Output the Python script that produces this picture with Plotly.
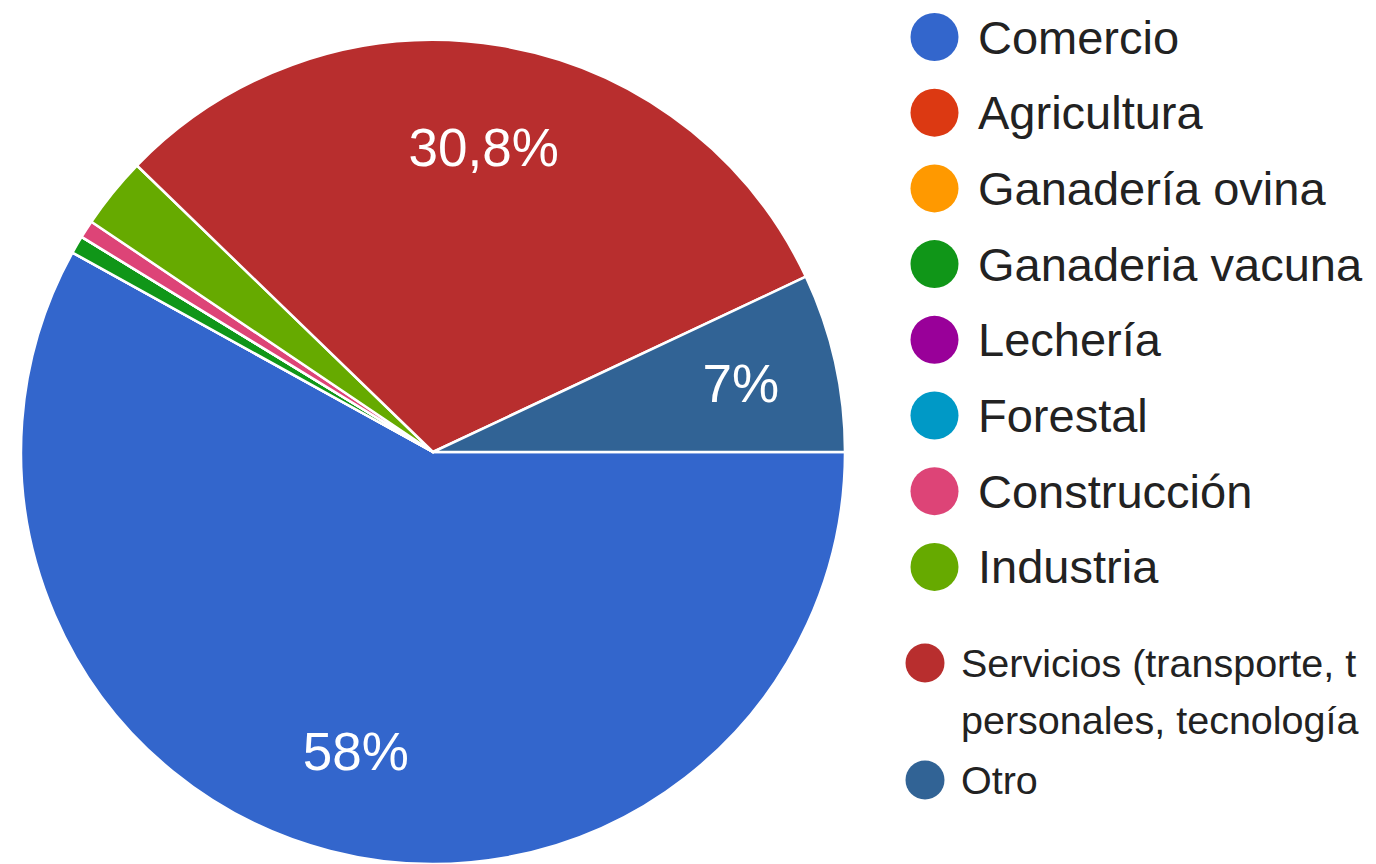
import plotly.graph_objects as go

# ---- data ----
categories = ["Comercio", "Agricultura", "Ganadería ovina", "Ganaderia vacuna",
              "Lechería", "Forestal", "Construcción", "Industria",
              "Servicios (transporte, turismo, servicios personales, tecnología)", "Otro"]
counts = [83, 0, 0, 1, 0, 0, 1, 4, 44, 10]
slice_labels = ["58%", "", "", "", "", "", "", "", "30,8%", ""]
small_slice_labels = ["", "", "", "", "", "", "", "", "", "7%"]
colors = ["#3366cc", "#dc3912", "#ff9900", "#109618", "#990099",
          "#0099c6", "#dd4477", "#66aa00", "#b82e2e", "#316395"]
legend_big = ["Comercio", "Agricultura", "Ganadería ovina", "Ganaderia vacuna",
              "Lechería", "Forestal", "Construcción", "Industria"]
legend_small = [["Servicios (transporte, t", "personales, tecnología"], ["Otro"]]

W, H = 1376, 864
FONT = "Liberation Sans, Arial, Helvetica, sans-serif"
TEXT_COLOR = "#222222"

# pie placement (pixels)
cx, cy, R = 433, 452, 412

def domain(radius):
    return dict(x=[(cx - radius) / W, (cx + radius) / W],
                y=[1 - (cy + radius) / H, 1 - (cy - radius) / H])

fig = go.Figure()
fig.add_trace(go.Pie(
    labels=categories, values=counts, sort=False, direction="clockwise", rotation=90,
    marker=dict(colors=colors, line=dict(color="white", width=2.5)),
    textinfo="none", hoverinfo="label+percent",
    domain=domain(R), showlegend=False,
))
# transparent rings carrying the percentage labels
for labels_, radius in ((slice_labels, R), (small_slice_labels, 384)):
    fig.add_trace(go.Pie(
        labels=categories, values=counts, sort=False, direction="clockwise", rotation=90,
        hole=0.5,
        marker=dict(colors=["rgba(0,0,0,0)"] * len(counts), line=dict(width=0)),
        text=labels_, textinfo="text", textposition="inside",
        insidetextorientation="horizontal",
        textfont=dict(color="white", size=53, family=FONT),
        hoverinfo="skip", domain=domain(radius), showlegend=False,
    ))

shapes = []
annotations = []

def px(x):
    return x / W

def py(y):
    return 1 - y / H

# big legend entries
big_rows_y0, big_step = 37, 75.7
for i, name in enumerate(legend_big):
    yc = big_rows_y0 + i * big_step
    rr = 24
    shapes.append(dict(type="circle", xref="paper", yref="paper",
                       x0=px(934.5 - rr), x1=px(934.5 + rr),
                       y0=py(yc + rr), y1=py(yc - rr),
                       fillcolor=colors[i], line=dict(width=0)))
    annotations.append(dict(text=name, xref="paper", yref="paper",
                            x=px(976), y=py(yc), xanchor="left", yanchor="middle",
                            showarrow=False,
                            font=dict(size=47, color=TEXT_COLOR, family=FONT)))

# small legend entries
small_rows = [663, 780]
for j, lines in enumerate(legend_small):
    yc = small_rows[j]
    rr = 19.5
    shapes.append(dict(type="circle", xref="paper", yref="paper",
                       x0=px(925 - rr), x1=px(925 + rr),
                       y0=py(yc + rr), y1=py(yc - rr),
                       fillcolor=colors[8 + j], line=dict(width=0)))
    for k, line in enumerate(lines):
        annotations.append(dict(text=line, xref="paper", yref="paper",
                                x=px(959), y=py(yc + k * 57), xanchor="left", yanchor="middle",
                                showarrow=False,
                                font=dict(size=39.5, color=TEXT_COLOR, family=FONT)))

fig.update_layout(
    width=W, height=H,
    margin=dict(l=0, r=0, t=0, b=0),
    paper_bgcolor="white", plot_bgcolor="white",
    shapes=shapes, annotations=annotations,
    font=dict(family=FONT),
)

fig.write_html("out.html", config={"displayModeBar": False},
               post_script="document.body.style.margin='0';")
